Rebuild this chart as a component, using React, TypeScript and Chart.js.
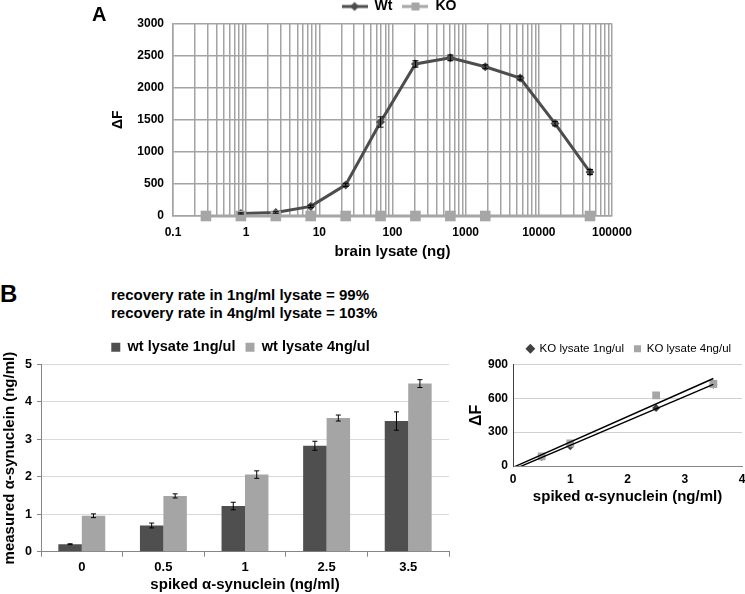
import React, { useEffect, useRef } from 'react';
import { Chart, registerables } from 'chart.js';

Chart.register(...registerables);

const FONT = "'Liberation Sans', Arial, Helvetica, sans-serif";

// ---------- Panel A: dose response ----------
const lysateNg = [0.282, 0.847, 2.54, 7.62, 22.9, 68.6, 205.8, 617.3, 1852, 5556, 16667, 50000];
const wtDeltaF: (number | null)[] = [null, 40, 55, 150, 485, 1465, 2370, 2465, 2325, 2150, 1440, 685];
const wtError: (number | null)[] = [null, 10, 12, 20, 25, 80, 50, 45, 30, 30, 35, 40];
const koDeltaF: (number | null)[] = [0, 0, 0, 0, 0, 0, 0, 0, 0, null, null, 0];
const decadeValues = [0.1, 1, 10, 100, 1000, 10000, 100000];
const decadeLabels = ['0.1', '1', '10', '100', '1000', '10000', '100000'];

// ---------- Panel B: recovery bars ----------
const spikedLabels = ['0', '0.5', '1', '2.5', '3.5'];
const wt1Measured = [0.2, 0.7, 1.22, 2.83, 3.49];
const wt1Error = [0.012, 0.065, 0.1, 0.12, 0.245];
const wt4Measured = [0.96, 1.49, 2.06, 3.57, 4.49];
const wt4Error = [0.05, 0.055, 0.1, 0.08, 0.105];
const recoveryLines = ['recovery rate in 1ng/ml lysate = 99%', 'recovery rate in 4ng/ml lysate = 103%'];

// ---------- Panel C: KO spike scatter ----------
const koSpiked = [0.5, 1, 2.5, 3.5];
const ko1DeltaF = [80, 175, 515, 720];
const ko4DeltaF = [85, 200, 627, 727];

const WT_DARK = '#4d4d4d';
const KO_LIGHT = '#a6a6a6';
const BAR_DARK = '#4f4f4f';
const BAR_LIGHT = '#a5a5a5';

// minor log grid positions for panel A (axis structure)
const logGridValues: number[] = [];
for (let e = -1; e <= 4; e++) {
  for (let m = 1; m <= 9; m++) logGridValues.push(Number((m * Math.pow(10, e)).toPrecision(3)));
}
logGridValues.push(100000);

function linearFit(xs: number[], ys: number[]) {
  const n = xs.length;
  const mx = xs.reduce((a, b) => a + b, 0) / n;
  const my = ys.reduce((a, b) => a + b, 0) / n;
  let sxy = 0, sxx = 0;
  for (let i = 0; i < n; i++) {
    sxy += (xs[i] - mx) * (ys[i] - my);
    sxx += (xs[i] - mx) * (xs[i] - mx);
  }
  const slope = sxy / sxx;
  return { slope, intercept: my - slope * mx };
}

const errorBarPlugin = {
  id: 'errorBars',
  afterDatasetsDraw(chart: any, _args: any, opts: any) {
    const ctx = chart.ctx;
    const cap = (opts && opts.cap) || 3;
    chart.data.datasets.forEach((ds: any, i: number) => {
      const errs = ds.errors;
      if (!errs) return;
      const meta = chart.getDatasetMeta(i);
      const yScale = chart.scales[meta.yAxisID];
      meta.data.forEach((el: any, j: number) => {
        const err = errs[j];
        if (!err) return;
        const raw = ds.data[j];
        const v = typeof raw === 'number' ? raw : raw.y;
        const x = el.x;
        const yTop = yScale.getPixelForValue(v + err);
        const yBot = yScale.getPixelForValue(v - err);
        ctx.save();
        ctx.strokeStyle = '#000';
        ctx.lineWidth = 1;
        ctx.beginPath();
        ctx.moveTo(x, yTop);
        ctx.lineTo(x, yBot);
        ctx.moveTo(x - cap, yTop);
        ctx.lineTo(x + cap, yTop);
        ctx.moveTo(x - cap, yBot);
        ctx.lineTo(x + cap, yBot);
        ctx.stroke();
        ctx.restore();
      });
    });
  },
};

function makeLegendSymbol(color: string, style: 'diamond' | 'square'): HTMLCanvasElement {
  const c = document.createElement('canvas');
  c.width = 26;
  c.height = 12;
  const g = c.getContext('2d')!;
  g.strokeStyle = color;
  g.lineWidth = 3;
  g.beginPath();
  g.moveTo(0, 6);
  g.lineTo(26, 6);
  g.stroke();
  g.fillStyle = color;
  if (style === 'diamond') {
    g.beginPath();
    g.moveTo(13, 1.5);
    g.lineTo(17.5, 6);
    g.lineTo(13, 10.5);
    g.lineTo(8.5, 6);
    g.closePath();
    g.fill();
  } else {
    g.fillRect(9, 2, 8, 8);
  }
  return c;
}

// an empty right-hand axis used only to reserve space (keeps legend centred like the original)
function spacerAxis(width: number) {
  return {
    type: 'linear',
    axis: 'y',
    position: 'right',
    display: true,
    grid: { display: false, drawTicks: false },
    border: { display: false },
    ticks: { display: false },
    afterFit: (scale: any) => {
      scale.width = width;
    },
  };
}

export default function App() {
  const refA = useRef<HTMLCanvasElement>(null);
  const refB = useRef<HTMLCanvasElement>(null);
  const refC = useRef<HTMLCanvasElement>(null);

  useEffect(() => {
    Chart.defaults.font.family = FONT;
    Chart.defaults.color = '#000';

    // ----- Panel A -----
    const wtPoints: { x: number; y: number }[] = [];
    const wtErrs: number[] = [];
    lysateNg.forEach((x, i) => {
      const y = wtDeltaF[i];
      if (y !== null) {
        wtPoints.push({ x, y });
        wtErrs.push(wtError[i] || 0);
      }
    });
    const koPoints: { x: number; y: number }[] = [];
    lysateNg.forEach((x, i) => {
      const y = koDeltaF[i];
      if (y !== null) koPoints.push({ x, y });
    });
    const wtSym = makeLegendSymbol(WT_DARK, 'diamond');
    const koSym = makeLegendSymbol(KO_LIGHT, 'square');
    const gridA = '#a3a3a3';

    const chartA = new Chart(refA.current!, {
      type: 'line',
      data: {
        datasets: [
          {
            label: 'Wt',
            data: wtPoints,
            borderColor: WT_DARK,
            backgroundColor: WT_DARK,
            borderWidth: 3,
            pointStyle: 'rectRot',
            pointRadius: 4.5,
            pointBorderWidth: 0,
            order: 1,
            clip: false,
            errors: wtErrs,
          } as any,
          {
            label: 'KO',
            data: koPoints,
            borderColor: KO_LIGHT,
            backgroundColor: KO_LIGHT,
            borderWidth: 3,
            pointStyle: 'rect',
            pointRadius: 7.5,
            pointBorderWidth: 0,
            order: 0,
            clip: false,
          } as any,
        ],
      },
      options: {
        responsive: false,
        animation: false,
        layout: { padding: { top: -10.5, left: 0, right: 0, bottom: 0 } },
        plugins: {
          tooltip: { enabled: false },
          errorBars: { cap: 3 },
          legend: {
            position: 'top',
            labels: {
              usePointStyle: true,
              pointStyleWidth: 26,
              padding: 10,
              color: '#000',
              font: { size: 14, weight: 'bold', family: FONT },
              generateLabels: () => [
                { text: 'Wt', pointStyle: wtSym, fillStyle: WT_DARK, strokeStyle: WT_DARK, lineWidth: 0, hidden: false, datasetIndex: 0, fontColor: '#000' },
                { text: 'KO', pointStyle: koSym, fillStyle: KO_LIGHT, strokeStyle: KO_LIGHT, lineWidth: 0, hidden: false, datasetIndex: 1, fontColor: '#000' },
              ] as any,
            },
          },
        } as any,
        scales: {
          x: {
            type: 'logarithmic',
            min: 0.1,
            max: 100000,
            afterBuildTicks: (scale: any) => {
              scale.ticks = logGridValues.map((v) => ({ value: v }));
            },
            afterFit: (scale: any) => {
              scale.height = 54;
            },
            grid: { color: gridA, lineWidth: 1.5, drawTicks: false },
            border: { color: gridA, width: 1.5 },
            ticks: {
              autoSkip: false,
              maxRotation: 0,
              padding: 9,
              font: { size: 12, weight: 'bold', family: FONT },
              callback: (v: any) => {
                const i = decadeValues.indexOf(Number(v));
                return i >= 0 ? decadeLabels[i] : '';
              },
            },
            title: {
              display: true,
              text: 'brain lysate (ng)',
              font: { size: 15, weight: 'bold', family: FONT },
              padding: { top: 0, bottom: 9 },
            },
          },
          y: {
            min: 0,
            max: 3000,
            afterFit: (scale: any) => {
              scale.width = 73;
            },
            grid: { color: gridA, lineWidth: 1.5, drawTicks: false },
            border: { color: gridA, width: 1.5 },
            ticks: {
              stepSize: 500,
              padding: 9,
              font: { size: 12, weight: 'bold', family: FONT },
              callback: (v: any) => String(v),
            },
            title: {
              display: true,
              text: 'ΔF',
              font: { size: 14, weight: 'bold', family: FONT },
              padding: { top: 9.6, bottom: 0 },
            },
          },
          spacer: spacerAxis(86),
        },
      } as any,
      plugins: [errorBarPlugin],
    });

    // ----- Panel B -----
    const chartB = new Chart(refB.current!, {
      type: 'bar',
      data: {
        labels: spikedLabels,
        datasets: [
          {
            label: 'wt lysate 1ng/ul',
            data: wt1Measured,
            backgroundColor: BAR_DARK,
            borderWidth: 0,
            barPercentage: 1,
            categoryPercentage: 0.575,
            errors: wt1Error,
          } as any,
          {
            label: 'wt lysate 4ng/ul',
            data: wt4Measured,
            backgroundColor: BAR_LIGHT,
            borderWidth: 0,
            barPercentage: 1,
            categoryPercentage: 0.575,
            errors: wt4Error,
          } as any,
        ],
      },
      options: {
        responsive: false,
        animation: false,
        layout: { padding: { top: 0, left: 0, right: 0, bottom: 0 } },
        plugins: {
          tooltip: { enabled: false },
          errorBars: { cap: 2.5 },
          legend: {
            position: 'top',
            labels: {
              boxWidth: 9,
              boxHeight: 9,
              padding: 10,
              color: '#000',
              font: { size: 14.5, weight: 'bold', family: FONT },
            },
          },
        } as any,
        scales: {
          x: {
            afterFit: (scale: any) => {
              scale.height = 42.3;
            },
            grid: { drawOnChartArea: false, drawTicks: true, tickLength: 5, color: '#868686', offset: true },
            border: { color: '#868686' },
            ticks: {
              padding: 3,
              font: { size: 13, weight: 'bold', family: FONT },
            },
            title: {
              display: true,
              text: 'spiked α-synuclein (ng/ml)',
              font: { size: 15, weight: 'bold', family: FONT },
              padding: { top: 0, bottom: 0 },
            },
          },
          y: {
            min: 0,
            max: 5,
            afterFit: (scale: any) => {
              scale.width = 41;
            },
            grid: { color: '#d9d9d9', drawTicks: true, tickLength: 4, tickColor: '#868686' },
            border: { color: '#868686' },
            ticks: {
              stepSize: 1,
              padding: 5,
              font: { size: 12.5, weight: 'bold', family: FONT },
            },
            title: {
              display: true,
              text: 'measured α-synuclein (ng/ml)',
              font: { size: 15, weight: 'bold', family: FONT },
              padding: { top: 1, bottom: 0 },
            },
          },
          spacer: spacerAxis(32),
        },
      } as any,
      plugins: [errorBarPlugin],
    });

    // ----- Panel C -----
    const fit1 = linearFit(koSpiked, ko1DeltaF);
    const fit4 = linearFit(koSpiked, ko4DeltaF);
    const xEnd = koSpiked[koSpiked.length - 1];
    const trend = (f: { slope: number; intercept: number }) => [
      { x: 0, y: f.intercept },
      { x: xEnd, y: f.intercept + f.slope * xEnd },
    ];

    const chartC = new Chart(refC.current!, {
      type: 'scatter',
      data: {
        datasets: [
          {
            label: 'KO lysate 1ng/ul',
            data: koSpiked.map((x, i) => ({ x, y: ko1DeltaF[i] })),
            backgroundColor: '#404040',
            borderColor: '#404040',
            pointStyle: 'rectRot',
            pointRadius: 4,
            pointBorderWidth: 0,
            order: 2,
          },
          {
            label: 'KO lysate 4ng/ul',
            data: koSpiked.map((x, i) => ({ x, y: ko4DeltaF[i] })),
            backgroundColor: KO_LIGHT,
            borderColor: KO_LIGHT,
            pointStyle: 'rect',
            pointRadius: 5.5,
            pointBorderWidth: 0,
            order: 1,
          },
          {
            label: 'trend1',
            data: trend(fit1),
            showLine: true,
            borderColor: '#000',
            backgroundColor: '#000',
            borderWidth: 1.4,
            pointRadius: 0,
            order: 0,
          },
          {
            label: 'trend4',
            data: trend(fit4),
            showLine: true,
            borderColor: '#000',
            backgroundColor: '#000',
            borderWidth: 1.4,
            pointRadius: 0,
            order: 0,
          },
        ],
      },
      options: {
        responsive: false,
        animation: false,
        layout: { padding: { top: 0, left: 0, right: 0, bottom: 0 } },
        plugins: {
          tooltip: { enabled: false },
          legend: {
            position: 'top',
            labels: {
              usePointStyle: true,
              boxWidth: 7,
              boxHeight: 7,
              padding: 10,
              color: '#000',
              font: { size: 11.5, family: FONT },
              filter: (item: any) => item.datasetIndex < 2,
              sort: (a: any, b: any) => a.datasetIndex - b.datasetIndex,
            },
          },
        } as any,
        scales: {
          x: {
            type: 'linear',
            min: 0,
            max: 4,
            afterFit: (scale: any) => {
              scale.height = 46;
            },
            grid: { drawOnChartArea: false, drawTicks: false },
            border: { color: '#868686' },
            ticks: {
              stepSize: 1,
              padding: 6,
              font: { size: 12, weight: 'bold', family: FONT },
            },
            title: {
              display: true,
              text: 'spiked α-synuclein (ng/ml)',
              font: { size: 15, weight: 'bold', family: FONT },
              padding: { top: 0, bottom: 6 },
            },
          },
          y: {
            min: 0,
            max: 900,
            afterFit: (scale: any) => {
              scale.width = 58;
            },
            grid: { color: '#d0d0d0', drawTicks: false },
            border: { color: '#404040' },
            ticks: {
              stepSize: 300,
              padding: 5,
              font: { size: 12, weight: 'bold', family: FONT },
            },
            title: {
              display: true,
              text: 'ΔF',
              font: { size: 16, weight: 'bold', family: FONT },
              padding: { top: 12.4, bottom: 0 },
            },
          },
          spacer: spacerAxis(61),
        },
      } as any,
    });

    return () => {
      chartA.destroy();
      chartB.destroy();
      chartC.destroy();
    };
  }, []);

  const abs = (l: number, t: number, w: number, h: number): React.CSSProperties => ({
    position: 'absolute',
    left: l,
    top: t,
    width: w,
    height: h,
  });

  return (
    <div
      style={{
        position: 'absolute',
        left: 0,
        top: 0,
        width: 745,
        height: 594,
        overflow: 'hidden',
        background: '#fff',
        fontFamily: FONT,
      }}
    >
      <canvas ref={refA} width={598} height={270} style={abs(100, 0, 598, 270)} />
      <canvas ref={refB} width={481} height={264} style={abs(0, 330, 481, 264)} />
      <canvas ref={refC} width={348} height={179} style={abs(455, 333, 348, 179)} />
      <div style={{ position: 'absolute', left: 92, top: 4, fontSize: 20, fontWeight: 'bold', lineHeight: 1 }}>A</div>
      <div style={{ position: 'absolute', left: 0, top: 282, fontSize: 24, fontWeight: 'bold', lineHeight: 1 }}>B</div>
      <div style={{ position: 'absolute', left: 111, top: 286, fontSize: 15, fontWeight: 'bold', lineHeight: '18px', whiteSpace: 'nowrap' }}>
        {recoveryLines.map((t, i) => (
          <div key={i}>{t}</div>
        ))}
      </div>
    </div>
  );
}
